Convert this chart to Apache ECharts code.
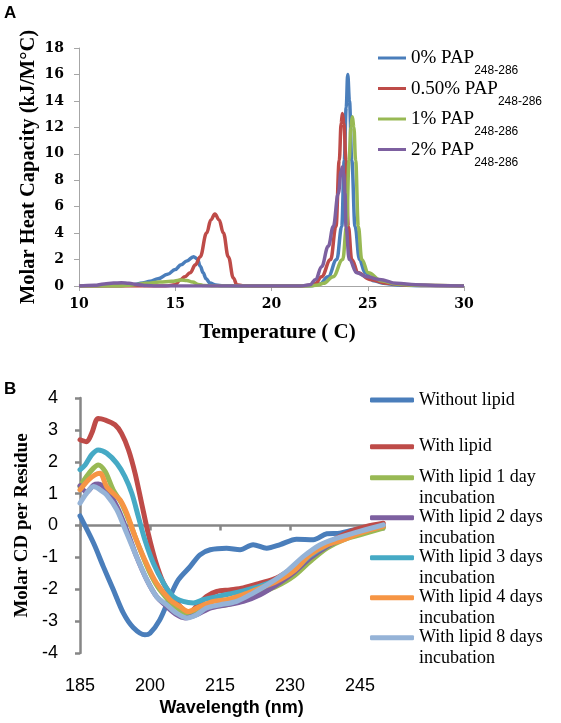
<!DOCTYPE html>
<html><head><meta charset="utf-8">
<script src="https://cdn.jsdelivr.net/npm/echarts@6/dist/echarts.min.js"></script>
<style>html,body{margin:0;padding:0;background:#fff}#c{width:561px;height:723px}</style>
</head><body><div id="c"></div>
<script>
// ---------- Panel A : DSC ----------
const aSeriesMain = ['0% PAP', '0.50% PAP', '1% PAP', '2% PAP'];
const aSeriesSub = '248-286';
const aColors = ['#4A7EBB', '#BE4B48', '#98B954', '#7D60A0'];

const tBlueA = [10, 11, 12, 12.8, 13.3, 13.7, 14.1, 14.6, 15.0, 15.3, 15.6, 15.95, 16.15, 16.3, 16.45, 16.6, 16.8, 17.1, 17.5, 18, 22, 22.5, 22.94, 23.39, 23.65, 23.78, 23.88, 23.96, 24.05, 24.17, 24.34, 24.57, 24.86, 25.3, 25.8, 26.5, 27.5, 30];
const cBlueA = [0, 0, 0.02, 0.1, 0.22, 0.35, 0.55, 0.88, 1.25, 1.6, 1.9, 2.22, 2.05, 1.5, 1.0, 0.55, 0.22, 0.07, 0.02, 0, 0, 0.15, 0.7, 2.0, 4.5, 9.5, 13.5, 16, 14, 9.5, 4.5, 2.0, 1.0, 0.4, 0.2, 0.08, 0.02, 0];

const tRedA = [10, 14.5, 15.0, 15.25, 15.5, 15.77, 16.05, 16.29, 16.63, 16.85, 17.06, 17.28, 17.5, 17.76, 18.02, 18.2, 18.5, 19, 21.5, 22.0, 22.3, 22.6, 23.07, 23.35, 23.52, 23.62, 23.68, 23.76, 23.87, 23.99, 24.17, 24.51, 25.1, 26, 27, 28, 30];
const cRedA = [0, 0, 0.1, 0.45, 0.7, 1.0, 1.6, 2.2, 4.0, 5.0, 5.45, 5.0, 4.0, 2.2, 0.6, 0.1, 0.02, 0, 0, 0.05, 0.2, 0.7, 2.0, 4.5, 9.5, 12.3, 13.05, 12.3, 9.5, 4.5, 2.0, 1.0, 0.5, 0.2, 0.08, 0.03, 0];

const tGreenA = [10, 12, 12.8, 13.5, 14.2, 14.8, 15.3, 15.6, 15.9, 16.2, 16.5, 17, 22, 22.4, 22.7, 23.2, 23.7, 23.9, 24.03, 24.12, 24.2, 24.28, 24.37, 24.51, 24.69, 25.03, 25.7, 26.5, 27.5, 30];
const cGreenA = [0, 0, 0.08, 0.2, 0.3, 0.35, 0.45, 0.42, 0.3, 0.12, 0.03, 0, 0, 0.08, 0.2, 0.7, 2.0, 4.5, 9.5, 12, 12.8, 12, 9.5, 4.5, 2.0, 1.0, 0.4, 0.15, 0.05, 0];

const tPurpleA = [10, 10.8, 11.3, 11.8, 12.2, 12.6, 13.0, 13.5, 14, 21.5, 22.0, 22.3, 22.6, 22.95, 23.21, 23.47, 23.62, 23.68, 23.75, 23.82, 23.87, 24.04, 24.43, 24.95, 25.6, 26.5, 27.5, 28.5, 30];
const cPurpleA = [0, 0.05, 0.15, 0.22, 0.25, 0.2, 0.12, 0.04, 0, 0, 0.1, 0.5, 1.46, 3.0, 4.5, 7.0, 8.7, 9.0, 8.5, 7.0, 4.5, 2.0, 1.0, 0.7, 0.5, 0.2, 0.1, 0.04, 0];

// ---------- Panel B : CD ----------
const bNames = ['Without lipid', 'With lipid', 'With lipid 1 day incubation', 'With lipid 2 days incubation',
  'With lipid 3 days incubation', 'With lipid 4 days incubation', 'With lipid 8 days incubation'];
const bColors = ['#4A7EBB', '#BE4B48', '#98B954', '#7D60A0', '#46AAC5', '#F69544', '#95B3D7'];

const wNoLipid = [185, 187.9, 190, 192.1, 194.3, 196.4, 198.9, 200, 202.1, 204.3, 206.1, 208.6, 210.7, 212.9, 216.4, 219.3, 222.1, 225, 227.9, 231.4, 235, 237.9, 240.7, 243.6, 246.4, 250];
const vNoLipid = [0.3, -0.55, -1.29, -2.0, -2.75, -3.2, -3.43, -3.38, -2.96, -2.23, -1.7, -1.29, -0.92, -0.76, -0.71, -0.76, -0.6, -0.71, -0.6, -0.43, -0.45, -0.26, -0.24, -0.14, -0.08, -0.03];

const wLipid = [185, 186.4, 187.5, 188.9, 190.4, 192.5, 193.9, 195.4, 196.8, 198.2, 199.6, 201.1, 202.9, 205, 207.1, 208.2, 210, 212.1, 214.3, 217.1, 220, 223.6, 227.1, 230, 232.9, 235.7, 239.3, 242.9, 246.4, 250];
const vLipid = [2.69, 2.63, 2.89, 3.36, 3.31, 3.16, 2.89, 2.37, 1.64, 0.7, -0.24, -1.08, -1.81, -2.28, -2.64, -2.75, -2.54, -2.23, -2.07, -2.02, -1.96, -1.81, -1.65, -1.39, -1.08, -0.76, -0.45, -0.19, -0.03, 0.07];

const wDay1 = [185, 186.4, 187.9, 188.9, 190.4, 192.1, 193.9, 195.7, 197.9, 200, 202.1, 205, 207.9, 210.7, 213.6, 216.4, 220, 223.6, 227.1, 230.7, 234.3, 237.9, 241.4, 245, 250];
const vDay1 = [1.22, 1.54, 1.8, 1.9, 1.69, 1.12, 0.7, 0.07, -0.76, -1.49, -2.02, -2.49, -2.75, -2.64, -2.54, -2.49, -2.33, -2.12, -1.91, -1.6, -1.13, -0.71, -0.45, -0.29, -0.08];

const wDay2 = [185, 186.4, 187.9, 188.9, 190.7, 192.9, 195, 197.1, 199.3, 201.4, 203.6, 205.7, 207.5, 210, 212.9, 216.4, 220, 223.6, 227.1, 230.7, 234.3, 237.9, 241.4, 245, 250];
const vDay2 = [1.25, 1.05, 1.27, 1.3, 1.12, 0.6, -0.14, -0.97, -1.7, -2.23, -2.54, -2.8, -2.9, -2.8, -2.59, -2.49, -2.38, -2.17, -1.86, -1.49, -1.02, -0.66, -0.4, -0.19, -0.01];

const wDay3 = [185, 186.1, 187.5, 188.9, 190.7, 192.9, 194.6, 196.1, 197.5, 198.9, 200.7, 202.9, 205, 207.1, 209.3, 211.4, 214.3, 217, 220, 223.6, 227.1, 230.7, 234.3, 237.9, 241.4, 245, 250];
const vDay3 = [1.75, 1.9, 2.22, 2.37, 2.27, 1.95, 1.54, 1.01, 0.28, -0.45, -1.18, -1.81, -2.23, -2.38, -2.43, -2.33, -2.23, -2.15, -2.05, -1.9, -1.7, -1.42, -0.95, -0.62, -0.42, -0.22, -0.02];

const wDay4 = [185, 186.8, 188.2, 189.3, 190.7, 192.1, 193.6, 195, 196.8, 198.9, 201.4, 204.3, 206.4, 208.2, 210.7, 213.6, 216.4, 220, 223.6, 227.1, 230.7, 234.3, 237.9, 241.4, 245, 250];
const vDay4 = [1.12, 1.43, 1.59, 1.64, 1.22, 1.01, 0.8, 0.39, -0.34, -1.08, -1.81, -2.33, -2.54, -2.7, -2.54, -2.38, -2.33, -2.17, -1.96, -1.76, -1.44, -0.92, -0.61, -0.45, -0.24, -0.03];

const wDay8 = [185, 186.4, 187.9, 189.3, 190.7, 192.9, 195, 197.1, 199.3, 201.4, 203.6, 205.7, 207.9, 210, 212.1, 215, 218.6, 222.1, 225.7, 229.3, 232.9, 236.4, 240, 243.6, 250];
const vDay8 = [0.7, 1.01, 1.22, 1.12, 0.96, 0.49, -0.24, -0.97, -1.7, -2.23, -2.49, -2.75, -2.9, -2.8, -2.59, -2.49, -2.38, -2.12, -1.81, -1.44, -0.97, -0.61, -0.4, -0.24, 0.02];

const zip = (xs, ys) => xs.map((x, i) => [x, ys[i]]);

const aData = [zip(tBlueA, cBlueA), zip(tRedA, cRedA), zip(tGreenA, cGreenA), zip(tPurpleA, cPurpleA)];
const bData = [zip(wNoLipid, vNoLipid), zip(wLipid, vLipid), zip(wDay1, vDay1), zip(wDay2, vDay2),
  zip(wDay3, vDay3), zip(wDay4, vDay4), zip(wDay8, vDay8)];

const aNames = aSeriesMain.map(m => m + ' ' + aSeriesSub);

const serifBold = { fontFamily: 'DejaVu Serif', fontWeight: 'bold', color: '#000' };

const series = [];
aData.forEach((d, i) => series.push({
  name: aNames[i], type: 'line', xAxisIndex: 0, yAxisIndex: 0, data: d,
  showSymbol: false, symbol: 'none', smooth: 0.4, smoothMonotone: 'x',
  lineStyle: { width: 3.5, color: aColors[i], join: 'round' }, itemStyle: { color: aColors[i] }
}));
bData.forEach((d, i) => series.push({
  name: bNames[i], type: 'line', xAxisIndex: 1, yAxisIndex: 1, data: d,
  showSymbol: false, symbol: 'none', smooth: 0.3,
  lineStyle: { width: 5, color: bColors[i], cap: 'round', join: 'round' }, itemStyle: { color: bColors[i] }
}));

const chart = echarts.init(document.getElementById('c'), null, { renderer: 'canvas' });
chart.setOption({
  animation: false,
  backgroundColor: '#fff',
  grid: [
    { left: 79, top: 48, width: 385, height: 238 },
    { left: 80, top: 398, width: 303.3, height: 255 }
  ],
  xAxis: [
    { gridIndex: 0, type: 'value', min: 10, max: 30, interval: 5,
      name: 'Temperature ( C)', nameLocation: 'middle', nameGap: 36,
      nameTextStyle: { fontFamily: 'Liberation Serif', fontWeight: 'bold', fontSize: 21, color: '#000', padding: [0, 0, 0, 12] },
      axisLine: { lineStyle: { color: '#A6A6A6', width: 1 } },
      axisTick: { length: 5, lineStyle: { color: '#A6A6A6' } },
      axisLabel: Object.assign({ fontSize: 14, margin: 11 }, serifBold),
      splitLine: { show: false } },
    { gridIndex: 1, type: 'value', min: 185, max: 250, interval: 15, position: 'bottom',
      name: 'Wavelength (nm)', nameLocation: 'middle', nameGap: 46,
      nameTextStyle: { fontFamily: 'Liberation Sans', fontWeight: 'bold', fontSize: 18, color: '#000' },
      axisLine: { show: false, onZero: false }, axisTick: { show: false },
      axisLabel: { fontFamily: 'Liberation Sans', fontSize: 18, color: '#000', margin: 24,
        formatter: v => (v <= 245 ? String(v) : '') },
      splitLine: { show: false } },
    { gridIndex: 1, type: 'value', min: 185, max: 250, interval: 15, position: 'top',
      axisLine: { onZero: true, lineStyle: { color: '#868686', width: 2.5 } },
      axisTick: { inside: true, length: 5, lineStyle: { color: '#868686', width: 2.5 } },
      axisLabel: { show: false }, splitLine: { show: false } }
  ],
  yAxis: [
    { gridIndex: 0, type: 'value', min: 0, max: 18, interval: 2,
      name: 'Molar Heat Capacity (kJ/M°C)', nameLocation: 'middle', nameGap: 40, nameMoveOverlap: false,
      nameTextStyle: { fontFamily: 'Liberation Serif', fontWeight: 'bold', fontSize: 20.5, color: '#000' },
      axisLine: { show: true, lineStyle: { color: '#A6A6A6', width: 1 } },
      axisTick: { show: true, length: 5, lineStyle: { color: '#A6A6A6' } },
      axisLabel: Object.assign({ fontSize: 14, margin: 15 }, serifBold),
      splitLine: { show: false } },
    { gridIndex: 1, type: 'value', min: -4, max: 4, interval: 1,
      name: 'Molar CD per Residue', nameLocation: 'middle', nameGap: 47,
      nameTextStyle: { fontFamily: 'Liberation Serif', fontWeight: 'bold', fontSize: 19, color: '#000' },
      axisLine: { show: true, onZero: false, lineStyle: { color: '#868686', width: 2.5 } },
      axisTick: { show: true, length: 5, lineStyle: { color: '#868686', width: 2.5 } },
      axisLabel: { fontFamily: 'Liberation Sans', fontSize: 18, color: '#000', margin: 22 },
      splitLine: { show: false } }
  ],
  legend: [
    { data: aNames, orient: 'vertical', left: 378, top: 48, padding: 0, itemGap: 1.5,
      itemWidth: 28, itemHeight: 3, icon: 'rect', selectedMode: false,
      formatter: n => '{m|' + n.split(' ').slice(0, 2).join(' ') + '}{s|' + aSeriesSub + '}',
      textStyle: { rich: {
        m: { fontFamily: 'Liberation Serif', fontSize: 19, lineHeight: 20, padding: [1, 0, 0, 0], verticalAlign: 'top', color: '#000' },
        s: { fontFamily: 'Liberation Sans', fontSize: 12, lineHeight: 20, padding: [17, 0, 0, 0], verticalAlign: 'top', color: '#000' }
      } } },
    { data: bNames.slice(0, 2), orient: 'vertical', left: 370, top: 389.5, padding: 0, itemGap: 25.7,
      itemWidth: 44, itemHeight: 5, icon: 'roundRect', selectedMode: false,
      textStyle: { fontFamily: 'Liberation Serif', fontSize: 18, lineHeight: 21, color: '#000' } },
    { data: bNames.slice(2), orient: 'vertical', left: 370, top: 446.2, padding: 0, itemGap: -23,
      itemWidth: 44, itemHeight: 5, icon: 'roundRect', selectedMode: false,
      formatter: n => '\n' + n.replace(' incubation', '\nincubation'),
      textStyle: { fontFamily: 'Liberation Serif', fontSize: 18, lineHeight: 21, color: '#000' } }
  ],
  graphic: [
    { type: 'text', left: 4, top: 5, style: { text: 'A', font: 'bold 17px "Liberation Sans"', fill: '#000' } },
    { type: 'text', left: 4, top: 381, style: { text: 'B', font: 'bold 17px "Liberation Sans"', fill: '#000' } }
  ],
  series: series
});
</script>
</body></html>
